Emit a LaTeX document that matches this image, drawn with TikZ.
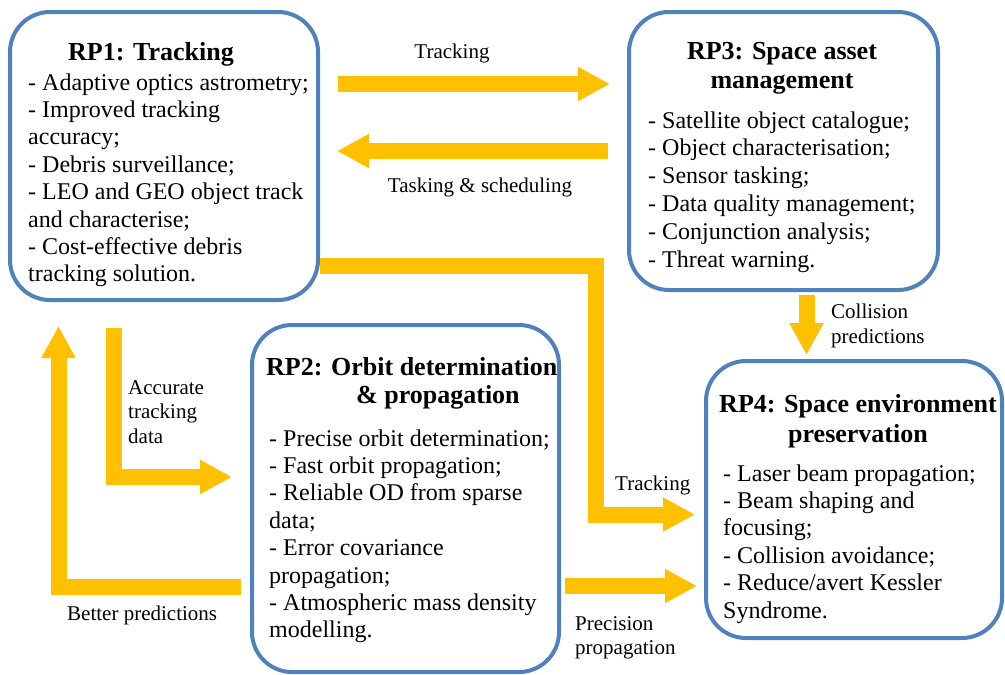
\documentclass[tikz,border=0pt]{standalone}
\usepackage{fontspec}
\setmainfont{Liberation Serif}
\usetikzlibrary{arrows.meta}
\definecolor{boxblue}{HTML}{4F81BD}
\definecolor{flowyellow}{HTML}{FFC000}
\begin{document}
\begin{tikzpicture}[x=1pt,y=-1pt,
  box/.style={draw=boxblue, line width=4pt, rounded corners=40pt, rectangle, inner sep=0pt, outer sep=0pt, anchor=north west},
  ttl/.style={font=\fontsize{26}{30}\selectfont\bfseries, inner sep=0pt},
  body/.style={font=\fontsize{24}{27.5}\selectfont, inner sep=0pt, anchor=base west},
  lbl/.style={font=\fontsize{21}{25}\selectfont, inner sep=0pt},
  flow/.style={draw=flowyellow, line width=16pt, line join=miter, -{Triangle[length=32pt,width=32pt]}}]
\useasboundingbox (0,0) rectangle (1005,675);

% ---------- boxes ----------
\node[box, minimum width=308pt, minimum height=288pt] (rp1) at (10,12) {};
\node[box, minimum width=309pt, minimum height=278pt] (rp3) at (629,12) {};
\node[box, minimum width=307pt, minimum height=347pt] (rp2) at (252,325) {};
\node[box, minimum width=296pt, minimum height=277pt] (rp4) at (706,361) {};

% ---------- arrows ----------
\coordinate (t1s) at (338,84);   \coordinate (t1e) at (610,84);
\draw[flow] (t1s) -- (t1e);
\coordinate (t2s) at (608,151);  \coordinate (t2e) at (337,151);
\draw[flow] (t2s) -- (t2e);
\coordinate (c1s) at (806.5,295); \coordinate (c1e) at (806.5,355);
\draw[flow] (c1s) -- (c1e);
\coordinate (t3s) at (320,265.5); \coordinate (t3a) at (595.5,265.5);
\coordinate (t3b) at (595.5,514.5); \coordinate (t3e) at (695,514.5);
\draw[flow] (t3s) -- (t3a) -- (t3b) -- (t3e);
\coordinate (p1s) at (565,586); \coordinate (p1e) at (697,586);
\draw[flow] (p1s) -- (p1e);
\coordinate (a1s) at (114,328); \coordinate (a1a) at (114,477); \coordinate (a1e) at (232,477);
\draw[flow] (a1s) -- (a1a) -- (a1e);
\coordinate (b1s) at (241,587); \coordinate (b1a) at (58.5,587); \coordinate (b1e) at (58.5,326);
\draw[flow] (b1s) -- (b1a) -- (b1e);

% ---------- arrow labels ----------
\node[lbl, anchor=base] (lt1) at (452,58) {Tracking};
\node[lbl, anchor=base] (lt2) at (480,192) {Tasking \& scheduling};
\node[lbl, anchor=base west] (lc1) at (831,318) {Collision};
\node[lbl, anchor=base west] (lc2) at (831,343) {predictions};
\node[lbl, anchor=base west] (lt3) at (615,490) {Tracking};
\node[lbl, anchor=base west] (lp1) at (575,630) {Precision};
\node[lbl, anchor=base west] (lp2) at (575,654) {propagation};
\node[lbl, anchor=base west] (la1) at (128,394) {Accurate};
\node[lbl, anchor=base west] (la2) at (128,418) {tracking};
\node[lbl, anchor=base west] (la3) at (128,443) {data};
\node[lbl, anchor=base west] (lb1) at (67,620) {Better predictions};

% ---------- titles ----------
\node[ttl, anchor=base] (rp1t) at (151,60) {RP1: Tracking};
\node[ttl, anchor=base] (rp3t1) at (782,59) {RP3: Space asset};
\node[ttl, anchor=base] (rp3t2) at (782,88) {management};
\node[ttl, anchor=base west] (rp2t1) at (266,375) {RP2: Orbit determination};
\node[ttl, anchor=base west] (rp2t2) at (356,403) {\& propagation};
\node[ttl, anchor=base] (rp4t1) at (858,412) {RP4: Space environment};
\node[ttl, anchor=base] (rp4t2) at (858,442) {preservation};

% ---------- body texts ----------
\foreach \t [count=\i from 0] in {{- Adaptive optics astrometry;},{- Improved tracking},{accuracy;},{- Debris surveillance;},{- LEO and GEO object track},{and characterise;},{- Cost-effective debris},{tracking solution.}}
  \node[body] (rp1b\i) at (28,90+27.4*\i) {\t};
\foreach \t [count=\i from 0] in {{- Satellite object catalogue;},{- Object characterisation;},{- Sensor tasking;},{- Data quality management;},{- Conjunction analysis;},{- Threat warning.}}
  \node[body] (rp3b\i) at (648,128+27.8*\i) {\t};
\foreach \t [count=\i from 0] in {{- Precise orbit determination;},{- Fast orbit propagation;},{- Reliable OD from sparse},{data;},{- Error covariance},{propagation;},{- Atmospheric mass density},{modelling.}}
  \node[body] (rp2b\i) at (269,446+27.4*\i) {\t};
\foreach \t [count=\i from 0] in {{- Laser beam propagation;},{- Beam shaping and},{focusing;},{- Collision avoidance;},{- Reduce/avert Kessler},{Syndrome.}}
  \node[body] (rp4b\i) at (723,481+27.4*\i) {\t};
\end{tikzpicture}
\end{document}
